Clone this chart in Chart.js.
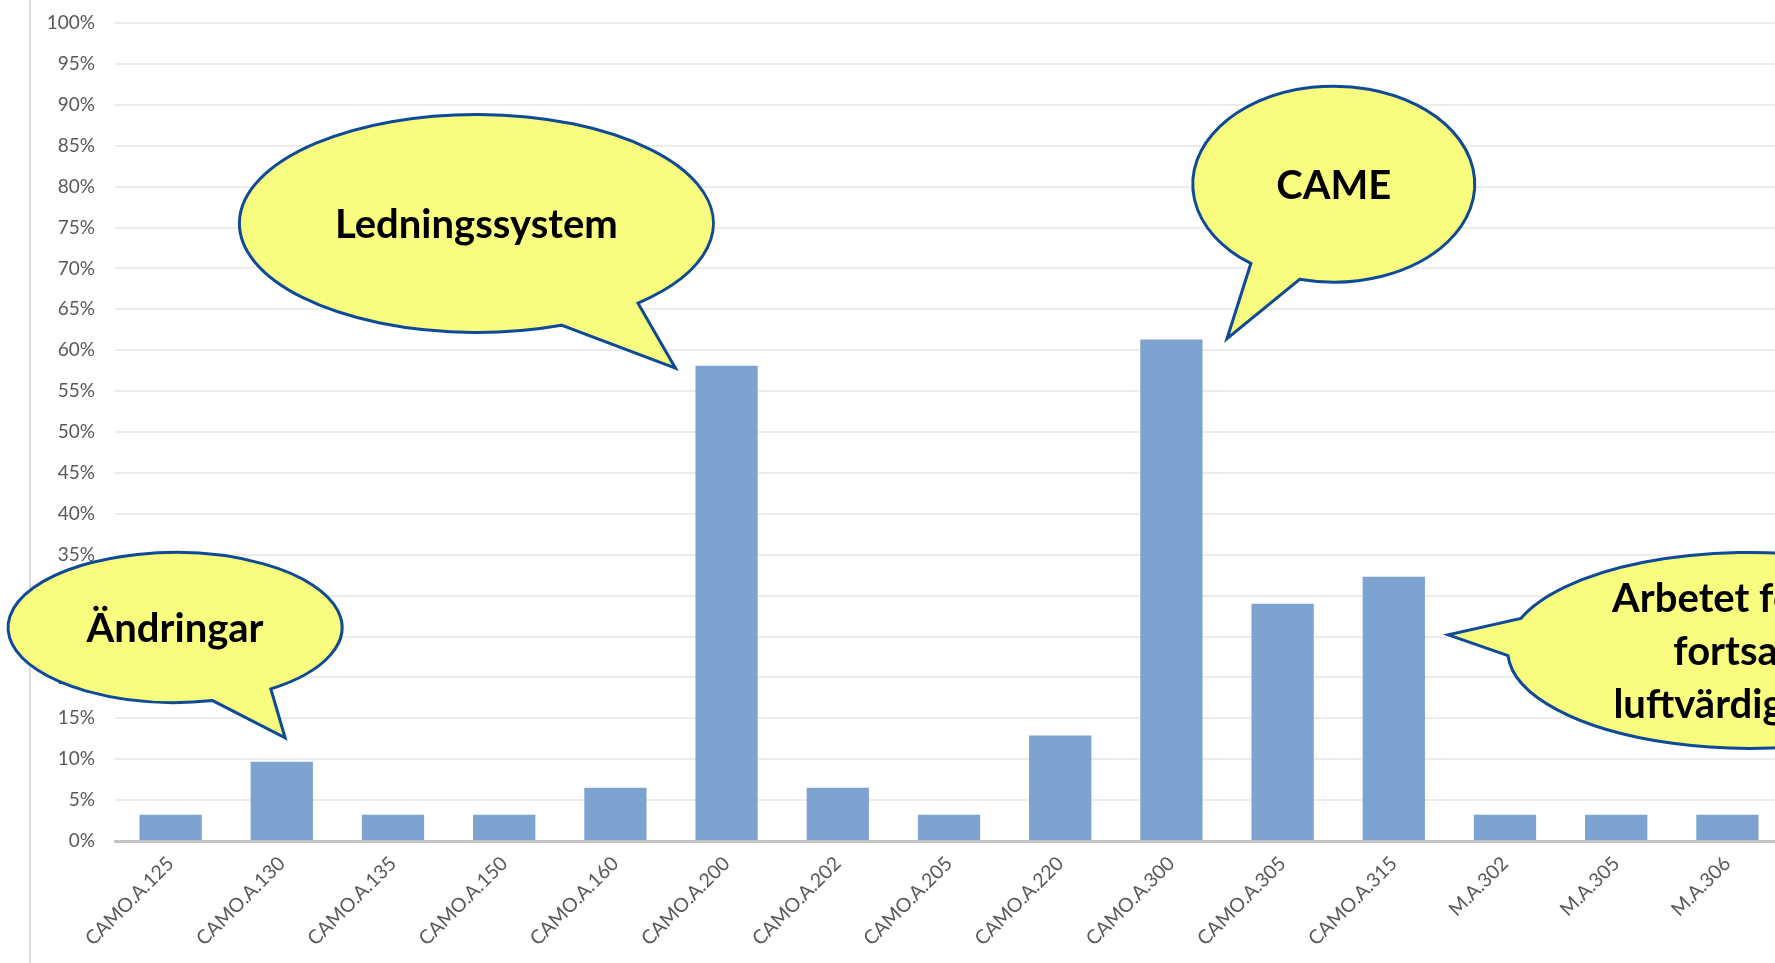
<!DOCTYPE html>
<html>
<head>
<meta charset="utf-8">
<script src="https://cdn.jsdelivr.net/npm/chart.js@4"></script>
<style>
  html, body { margin: 0; padding: 0; background: #fff; overflow: hidden; }
  #wrap { width: 1783px; height: 963px; position: relative; }
</style>
</head>
<body>
<div id="wrap"><canvas id="chart"></canvas></div>
<script>
// categories and values (share of findings, %)
const categories = ['CAMO.A.125', 'CAMO.A.130', 'CAMO.A.135', 'CAMO.A.150', 'CAMO.A.160',
    'CAMO.A.200', 'CAMO.A.202', 'CAMO.A.205', 'CAMO.A.220', 'CAMO.A.300',
    'CAMO.A.305', 'CAMO.A.315', 'M.A.302', 'M.A.305', 'M.A.306'];
const shares = [3.2, 9.7, 3.2, 3.2, 6.5, 58.1, 6.5, 3.2, 12.9, 61.3, 29.0, 32.3, 3.2, 3.2, 3.2];
const yTicks = [0, 5, 10, 15, 20, 25, 30, 35, 40, 45, 50, 55, 60, 65, 70, 75, 80, 85, 90, 95, 100];

// speech bubbles: centre and tip in (category index, %) units
const bubbleText = [['Ledningssystem'], ['CAME'], ['Ändringar'], ['Arbetet för den', 'fortsatta', 'luftvärdigheten']];
const bubbleCenter = [[2.75, 75.5], [10.46, 80.3], [0.04, 26.1], [14.20, 23.3]];
const bubbleTip = [[4.54, 57.8], [9.50, 61.4], [1.03, 12.6], [11.49, 25.2]];

const bubbleRadius = [[237, 109], [141, 98], [167, 75], [242, 98]];
const bubbleTailAngles = [[47, 69], [104, 126], [55, 77], [177, 199]];

const calloutPlugin = {
    id: 'callouts',
    beforeDraw(chart) {
        const ctx = chart.ctx;
        ctx.save();
        ctx.strokeStyle = '#d9d9d9';
        ctx.lineWidth = 2;
        ctx.beginPath();
        ctx.moveTo(30, 0);
        ctx.lineTo(30, chart.height);
        ctx.stroke();
        ctx.restore();
    },
    afterDatasetsDraw(chart) {
        const ctx = chart.ctx;
        const xs = chart.scales.x, ys = chart.scales.y;
        bubbleText.forEach(function (lines, i) {
            const cx = xs.getPixelForValue(bubbleCenter[i][0]);
            const cy = ys.getPixelForValue(bubbleCenter[i][1]);
            const tx = xs.getPixelForValue(bubbleTip[i][0]);
            const ty = ys.getPixelForValue(bubbleTip[i][1]);
            const rx = bubbleRadius[i][0], ry = bubbleRadius[i][1];
            const a1 = bubbleTailAngles[i][0] * Math.PI / 180;
            const a2 = bubbleTailAngles[i][1] * Math.PI / 180;

            ctx.save();
            ctx.beginPath();
            ctx.ellipse(cx, cy, rx, ry, 0, a2, a1 + 2 * Math.PI);
            ctx.lineTo(tx, ty);
            ctx.closePath();
            ctx.fillStyle = '#f8fc7f';
            ctx.fill();
            ctx.lineWidth = 3;
            ctx.lineJoin = 'miter';
            ctx.strokeStyle = '#0e4a96';
            ctx.stroke();

            const size = 40;
            const lh = 53;
            ctx.fillStyle = '#000';
            ctx.font = 'bold ' + size + 'px Lato';
            ctx.textAlign = 'center';
            ctx.textBaseline = 'alphabetic';
            lines.forEach(function (t, k) {
                const y = cy + (k - (lines.length - 1) / 2) * lh + size * 0.36;
                ctx.fillText(t, cx, y);
            });
            ctx.restore();
        });
    }
};

new Chart(document.getElementById('chart'), {
    type: 'bar',
    data: {
        labels: categories,
        datasets: [{
            data: shares,
            backgroundColor: '#7ea3d0',
            categoryPercentage: 1,
            barPercentage: 0.56
        }]
    },
    options: {
        responsive: true,
        maintainAspectRatio: false,
        animation: false,
        layout: { padding: 0 },
        plugins: { legend: { display: false }, tooltip: { enabled: false } },
        scales: {
            x: {
                grid: { display: false },
                border: { color: '#c4c4c4', width: 3 },
                ticks: {
                    color: '#595959',
                    font: { family: 'Lato', size: 19.5 },
                    minRotation: 45,
                    maxRotation: 45,
                    padding: 3
                },
                afterFit: function (scale) { scale.height = 122; }
            },
            y: {
                min: 0,
                max: 100,
                afterBuildTicks: function (scale) {
                    scale.ticks = yTicks.map(function (v) { return { value: v }; });
                },
                grid: { color: '#ececec', lineWidth: 2, drawTicks: false },
                border: { display: false },
                ticks: {
                    color: '#595959',
                    font: { family: 'Lato', size: 19 },
                    padding: 20,
                    callback: function (value) { return value + '%'; }
                },
                afterFit: function (scale) {
                    scale.width = 115;
                    scale.paddingTop = 23;
                    scale.paddingBottom = 0;
                }
            }
        }
    },
    plugins: [calloutPlugin]
});
</script>
</body>
</html>
